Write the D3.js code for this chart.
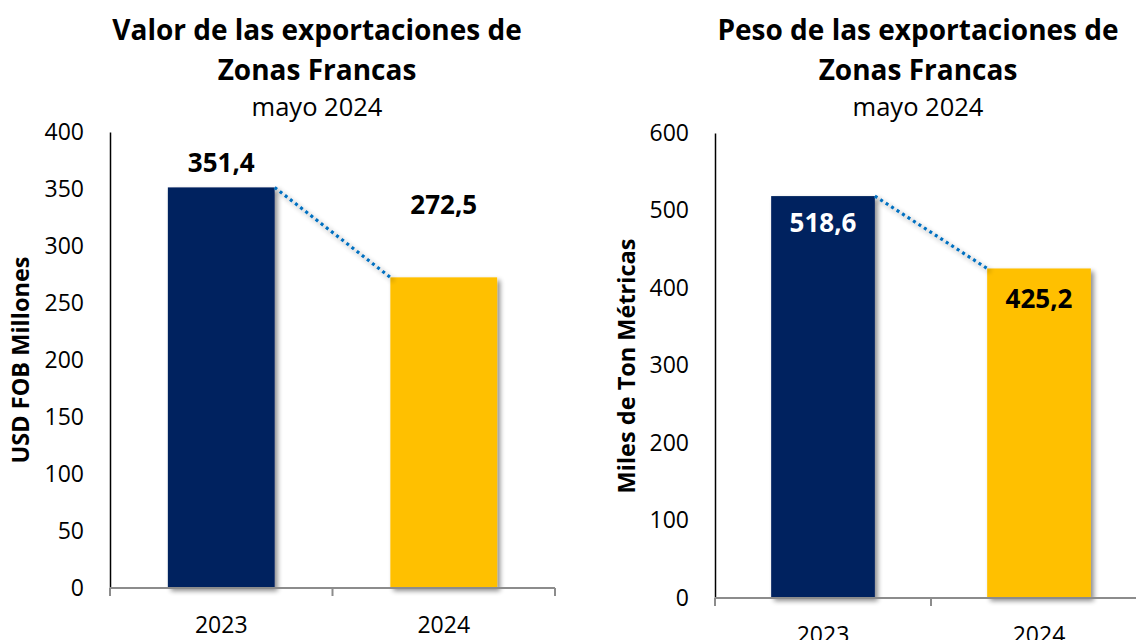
<!DOCTYPE html>
<html>
<head>
<meta charset="utf-8">
<script src="https://cdn.jsdelivr.net/npm/d3@7"></script>
<style>
  body { margin: 0; background: #fff; }
  svg { font-family: "Open Sans", sans-serif; display: block; }
</style>
</head>
<body>
<script>
// data
var years = ["2023", "2024"];
var valorUSD = [351.4, 272.5];
var pesoTon = [518.6, 425.2];
var valorTicks = [0, 50, 100, 150, 200, 250, 300, 350, 400];
var pesoTicks = [0, 100, 200, 300, 400, 500, 600];
var barColors = ["#03215E", "#FFC000"];

var w = 1136, h = 640;
var svg = d3.select("body").append("svg")
    .attr("width", w)
    .attr("height", h);

// soft shadow like excel bars
var defs = svg.append("defs");
var f = defs.append("filter").attr("id", "shadow")
    .attr("x", "-20%").attr("y", "-20%").attr("width", "150%").attr("height", "150%");
f.append("feGaussianBlur").attr("in", "SourceAlpha").attr("stdDeviation", 2.5);
f.append("feOffset").attr("dx", 3).attr("dy", 3).attr("result", "ob");
f.append("feComponentTransfer").append("feFuncA").attr("type", "linear").attr("slope", 0.45);
var fm = f.append("feMerge");
fm.append("feMergeNode");
fm.append("feMergeNode").attr("in", "SourceGraphic");

function fmt(v) { return d3.format(".1f")(v).replace(".", ","); }

function drawChart(opt) {
    var g = svg.append("g");

    var x = d3.scaleBand().domain(years).range([opt.left, opt.right]).paddingInner(0).paddingOuter(0);
    var y = d3.scaleLinear().domain([0, d3.max(opt.ticks)]).range([opt.bottom, opt.top]);

    // titles
    var t = g.append("text").attr("text-anchor", "middle").attr("fill", "#000");
    opt.title.forEach(function(line, i) {
        t.append("tspan").attr("x", opt.titleX).attr("y", 40 + i * 40)
            .style("font-weight", "bold").style("font-size", "28px").text(line);
    });
    t.append("tspan").attr("x", opt.titleX).attr("y", 116)
        .style("font-size", "25.5px").text("mayo 2024");

    // y axis
    var yAxis = g.append("g")
        .attr("transform", "translate(" + opt.left + ",0)")
        .call(d3.axisLeft(y).tickValues(opt.ticks).tickSize(0).tickPadding(26).tickFormat(d3.format("d")));
    yAxis.select(".domain").attr("stroke", "#000").attr("stroke-width", 1.5);
    yAxis.selectAll("text").style("font-size", "23px").attr("fill", "#000").attr("font-family", "Open Sans");

    g.append("text")
        .attr("transform", "translate(" + opt.yTitleX + "," + opt.yTitleY + ") rotate(-90)")
        .attr("text-anchor", "middle")
        .attr("dy", "0.35em")
        .style("font-weight", "bold").style("font-size", "23.5px")
        .text(opt.yTitle);

    // bars
    var bw = x.bandwidth() * 0.48;
    g.selectAll(".bar").data(opt.values).enter().append("rect")
        .attr("x", function(d, i) { return x(years[i]) + x.bandwidth() / 2 - bw / 2; })
        .attr("y", function(d) { return y(d); })
        .attr("width", bw)
        .attr("height", function(d) { return y(0) - y(d); })
        .attr("fill", function(d, i) { return barColors[i]; })
        .attr("filter", "url(#shadow)");

    // dotted line between bar tops
    g.append("line")
        .attr("x1", x(years[0]) + x.bandwidth() / 2 + bw / 2)
        .attr("y1", y(opt.values[0]))
        .attr("x2", x(years[1]) + x.bandwidth() / 2 - bw / 2)
        .attr("y2", y(opt.values[1]))
        .attr("stroke", "#0070C0")
        .attr("stroke-width", 3.2)
        .attr("stroke-dasharray", "3,3.5")
        .attr("filter", "url(#shadow)");

    // x axis
    var xAxis = g.append("g")
        .attr("transform", "translate(0," + opt.bottom + ")");
    xAxis.append("line").attr("x1", opt.left).attr("x2", opt.right)
        .attr("stroke", "#8c8c8c").attr("stroke-width", 2);
    xAxis.selectAll(".tk").data([opt.left].concat(years.map(function(d) { return x(d) + x.bandwidth(); })))
        .enter().append("line")
        .attr("x1", function(d) { return d; }).attr("x2", function(d) { return d; })
        .attr("y1", 0).attr("y2", 8)
        .attr("stroke", "#8c8c8c").attr("stroke-width", 2);
    xAxis.selectAll(".cat").data(years).enter().append("text")
        .attr("x", function(d) { return x(d) + x.bandwidth() / 2; })
        .attr("y", 45)
        .attr("text-anchor", "middle")
        .style("font-size", "23px")
        .text(function(d) { return d; });

    // data labels
    g.selectAll(".lbl").data(opt.values).enter().append("text")
        .attr("x", function(d, i) { return x(years[i]) + x.bandwidth() / 2; })
        .attr("y", function(d, i) { return y(d) + opt.labelDy[i]; })
        .attr("text-anchor", "middle")
        .attr("dy", "0.35em")
        .style("font-weight", "bold").style("font-size", "26px")
        .attr("fill", function(d, i) { return opt.labelFill[i]; })
        .text(function(d) { return fmt(d); });
}

drawChart({
    left: 110, right: 555, top: 132, bottom: 588,
    ticks: valorTicks, values: valorUSD,
    title: ["Valor de las exportaciones de", "Zonas Francas"],
    titleX: 317,
    yTitle: "USD FOB Millones", yTitleX: 21, yTitleY: 360,
    labelDy: [-25, -72], labelFill: ["#000", "#000"]
});

drawChart({
    left: 715, right: 1147, top: 133, bottom: 598,
    ticks: pesoTicks, values: pesoTon,
    title: ["Peso de las exportaciones de", "Zonas Francas"],
    titleX: 918,
    yTitle: "Miles de Ton Métricas", yTitleX: 627, yTitleY: 366,
    labelDy: [27, 30], labelFill: ["#fff", "#000"]
});
</script>
</body>
</html>
